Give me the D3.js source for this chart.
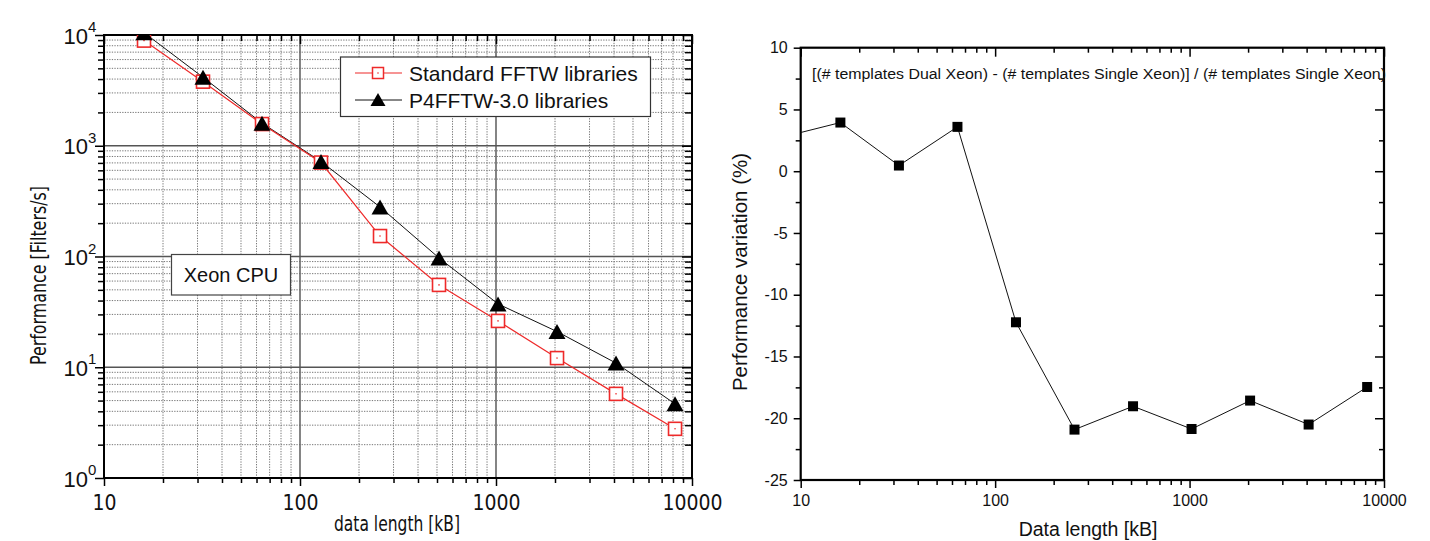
<!DOCTYPE html>
<html>
<head>
<meta charset="utf-8">
<script src="https://cdn.jsdelivr.net/npm/d3@7"></script>
<style>
  html, body { margin: 0; padding: 0; background: #fff; }
  svg { display: block; }
  text { fill: #111; }
</style>
</head>
<body>
<svg id="chart" width="1430" height="541"></svg>
<script>
// ---------------- DATA ----------------
const sizesKB = [16, 32, 64, 128, 256, 512, 1024, 2048, 4096, 8192];
const standardFFTW = [8900, 3790, 1570, 705, 153, 55.4, 26.2, 12.1, 5.75, 2.78];
const p4FFTW = [10500, 4150, 1600, 720, 280, 97, 37.3, 21, 10.9, 4.67];
const seriesNames = ["Standard FFTW libraries", "P4FFTW-3.0 libraries"];

const varSizesKB = [8, 16, 32, 64, 128, 256, 512, 1024, 2048, 4096, 8192];
const variation = [2.75, 3.94, 0.46, 3.59, -12.23, -20.92, -19.03, -20.87, -18.57, -20.51, -17.47];

const leftXTicks = [10, 100, 1000, 10000];
const leftYTickExp = [0, 1, 2, 3, 4];
const rightXTicks = [10, 100, 1000, 10000];
const rightYTicks = [-25, -20, -15, -10, -5, 0, 5, 10];
const rightYMinor = [-22.5, -17.5, -12.5, -7.5, -2.5, 2.5, 7.5];

const svg = d3.select("#chart");
const SANS = "'Liberation Sans', Arial, sans-serif";
const NARROW = "'Liberation Sans Narrow', 'DejaVu Sans Condensed', sans-serif";

// ================= LEFT CHART =================
const L = { x0: 104, x1: 692, y0: 35, y1: 478 };
const lx = d3.scaleLog().domain([10, 10000]).range([L.x0, L.x1]);
const ly = d3.scaleLog().domain([1, 10000]).range([L.y1, L.y0]);
const leftG = svg.append("g");

const xAll = lx.ticks();
const yAll = ly.ticks();
const isPow10 = v => Math.abs(Math.log10(v) - Math.round(Math.log10(v))) < 1e-9;
const xMinor = xAll.filter(v => !isPow10(v));
const yMinor = yAll.filter(v => !isPow10(v));
const xMajorInner = leftXTicks.filter(v => v > 10 && v < 10000);
const yMajorInner = leftYTickExp.map(e => Math.pow(10, e)).filter(v => v > 1 && v < 10000);

// minor grid (dotted)
leftG.append("g").selectAll("line.vx").data(xMinor).join("line")
  .attr("x1", d => lx(d)).attr("x2", d => lx(d)).attr("y1", L.y0).attr("y2", L.y1)
  .attr("stroke", "#777").attr("stroke-width", 1).attr("stroke-dasharray", "1.3,1.3");
leftG.append("g").selectAll("line.hy").data(yMinor).join("line")
  .attr("y1", d => ly(d)).attr("y2", d => ly(d)).attr("x1", L.x0).attr("x2", L.x1)
  .attr("stroke", "#777").attr("stroke-width", 1).attr("stroke-dasharray", "1.3,1.3");
// major grid (solid)
leftG.append("g").selectAll("line").data(xMajorInner).join("line")
  .attr("x1", d => lx(d)).attr("x2", d => lx(d)).attr("y1", L.y0).attr("y2", L.y1)
  .attr("stroke", "#666").attr("stroke-width", 1.6);
leftG.append("g").selectAll("line").data(yMajorInner).join("line")
  .attr("y1", d => ly(d)).attr("y2", d => ly(d)).attr("x1", L.x0).attr("x2", L.x1)
  .attr("stroke", "#555").attr("stroke-width", 1.6);

// axes ticks
function tickAxis(g, axis) {
  g.call(axis);
  g.select(".domain").remove();
  g.selectAll(".tick line").attr("stroke", "#000").attr("stroke-width", 1.5);
  return g;
}
const intFmt = d => String(d);
// bottom
tickAxis(leftG.append("g").attr("transform", `translate(0,${L.y1})`),
  d3.axisBottom(lx).tickValues(xMinor).tickSize(5).tickFormat(""));
const lxb = tickAxis(leftG.append("g").attr("transform", `translate(0,${L.y1})`),
  d3.axisBottom(lx).tickValues(leftXTicks).tickSize(8).tickPadding(9).tickFormat(intFmt));
lxb.selectAll("text").attr("font-family", NARROW).attr("font-size", 21).attr("fill", "#222");
// top (inward)
tickAxis(leftG.append("g").attr("transform", `translate(0,${L.y0})`),
  d3.axisTop(lx).tickValues(xMinor).tickSize(-6).tickFormat(""));
tickAxis(leftG.append("g").attr("transform", `translate(0,${L.y0})`),
  d3.axisTop(lx).tickValues(leftXTicks).tickSize(-9).tickFormat(""));
// left (outward)
tickAxis(leftG.append("g").attr("transform", `translate(${L.x0},0)`),
  d3.axisLeft(ly).tickValues(yMinor).tickSize(6).tickFormat(""));
tickAxis(leftG.append("g").attr("transform", `translate(${L.x0},0)`),
  d3.axisLeft(ly).tickValues(leftYTickExp.map(e => Math.pow(10, e))).tickSize(9).tickFormat(""));
// right (inward)
tickAxis(leftG.append("g").attr("transform", `translate(${L.x1},0)`),
  d3.axisRight(ly).tickValues(yMinor).tickSize(-7).tickFormat(""));
tickAxis(leftG.append("g").attr("transform", `translate(${L.x1},0)`),
  d3.axisRight(ly).tickValues(leftYTickExp.map(e => Math.pow(10, e))).tickSize(-10).tickFormat(""));

// y tick labels 10^n
leftG.append("g").selectAll("text").data(leftYTickExp).join("text")
  .attr("x", 88).attr("y", d => ly(Math.pow(10, d)) + 8.5)
  .attr("text-anchor", "end")
  .attr("font-family", SANS).attr("font-size", 22).attr("fill", "#222")
  .text("10");
leftG.append("g").selectAll("text").data(leftYTickExp).join("text")
  .attr("x", 88).attr("y", d => ly(Math.pow(10, d)) - 3)
  .attr("font-family", SANS).attr("font-size", 15).attr("fill", "#222")
  .text(d => d);

// frame
leftG.append("rect").attr("x", L.x0).attr("y", L.y0)
  .attr("width", L.x1 - L.x0).attr("height", L.y1 - L.y0)
  .attr("fill", "none").attr("stroke", "#000").attr("stroke-width", 2);

// axis titles
leftG.append("text").attr("x", 334).attr("y", 531)
  .attr("font-family", NARROW).attr("font-size", 22).attr("fill", "#222")
  .attr("textLength", 126).attr("lengthAdjust", "spacingAndGlyphs")
  .text("data length [kB]");
leftG.append("text").attr("transform", `translate(46,365) rotate(-90)`)
  .attr("font-family", NARROW).attr("font-size", 22).attr("fill", "#222")
  .attr("textLength", 179).attr("lengthAdjust", "spacingAndGlyphs")
  .text("Performance [Filters/s]");

// clip
svg.append("defs").append("clipPath").attr("id", "clipL")
  .append("rect").attr("x", L.x0).attr("y", L.y0).attr("width", L.x1 - L.x0).attr("height", L.y1 - L.y0);
const plotL = leftG.append("g").attr("clip-path", "url(#clipL)");

const lineL = d3.line().x((d, i) => lx(sizesKB[i])).y(d => ly(d));
plotL.append("path").datum(p4FFTW).attr("d", lineL)
  .attr("fill", "none").attr("stroke", "#111").attr("stroke-width", 1);
plotL.append("path").datum(standardFFTW).attr("d", lineL)
  .attr("fill", "none").attr("stroke", "#ee2a2a").attr("stroke-width", 1.2);

function triPath(w, h) {
  return `M0,${-h / 2}L${w / 2},${h / 2}L${-w / 2},${h / 2}Z`;
}
// red squares
const sq = 13;
plotL.append("g").selectAll("rect").data(standardFFTW).join("rect")
  .attr("x", (d, i) => lx(sizesKB[i]) - sq / 2).attr("y", d => ly(d) - sq / 2)
  .attr("width", sq).attr("height", sq)
  .attr("fill", "#fff").attr("stroke", "#ee2a2a").attr("stroke-width", 1.6);
plotL.append("g").selectAll("circle").data(standardFFTW).join("circle")
  .attr("cx", (d, i) => lx(sizesKB[i])).attr("cy", d => ly(d)).attr("r", 0.8).attr("fill", "#ee2a2a");
// black triangles
plotL.append("g").selectAll("path").data(p4FFTW).join("path")
  .attr("transform", (d, i) => `translate(${lx(sizesKB[i])},${ly(d)})`)
  .attr("d", triPath(17, 15)).attr("fill", "#000");

// legend
const lg = leftG.append("g");
lg.append("rect").attr("x", 340.5).attr("y", 57).attr("width", 310).attr("height", 59.5)
  .attr("fill", "#fff").attr("stroke", "#333").attr("stroke-width", 1.2);
const legRows = [73, 100];
lg.append("line").attr("x1", 355).attr("x2", 402).attr("y1", legRows[0]).attr("y2", legRows[0])
  .attr("stroke", "#ee2a2a").attr("stroke-width", 1.2);
lg.append("rect").attr("x", 378 - 5.5).attr("y", legRows[0] - 5.5).attr("width", 11).attr("height", 11)
  .attr("fill", "#fff").attr("stroke", "#ee2a2a").attr("stroke-width", 1.5);
lg.append("circle").attr("cx", 378).attr("cy", legRows[0]).attr("r", 0.8).attr("fill", "#ee2a2a");
lg.append("line").attr("x1", 355).attr("x2", 402).attr("y1", legRows[1]).attr("y2", legRows[1])
  .attr("stroke", "#111").attr("stroke-width", 1);
lg.append("path").attr("transform", `translate(378,${legRows[1] - 0.5})`).attr("d", triPath(15, 13)).attr("fill", "#000");
lg.selectAll("text.leg").data(seriesNames).join("text")
  .attr("x", 409).attr("y", (d, i) => legRows[i] + 7.5)
  .attr("font-family", SANS).attr("font-size", 21).attr("fill", "#222")
  .text(d => d);

// Xeon CPU box
leftG.append("rect").attr("x", 171.5).attr("y", 254.5).attr("width", 119).attr("height", 40.5)
  .attr("fill", "#fff").attr("stroke", "#444").attr("stroke-width", 1.2);
leftG.append("text").attr("x", 231).attr("y", 282).attr("text-anchor", "middle")
  .attr("font-family", SANS).attr("font-size", 20).attr("fill", "#222").text("Xeon CPU");

// ================= RIGHT CHART =================
const R = { x0: 800.7, x1: 1384, y0: 47.7, y1: 480 };
const rx = d3.scaleLog().domain([10, 10000]).range([R.x0, R.x1]);
const ry = d3.scaleLinear().domain([-25, 10]).range([R.y1, R.y0]);
const rightG = svg.append("g");
const rxMinor = rx.ticks().filter(v => !isPow10(v));

// bottom (outward)
tickAxis(rightG.append("g").attr("transform", `translate(0,${R.y1})`),
  d3.axisBottom(rx).tickValues(rxMinor).tickSize(5).tickFormat(""));
const rxb = tickAxis(rightG.append("g").attr("transform", `translate(0,${R.y1})`),
  d3.axisBottom(rx).tickValues(rightXTicks).tickSize(8).tickPadding(7).tickFormat(intFmt));
rxb.selectAll("text").attr("font-family", SANS).attr("font-size", 16).attr("fill", "#111");
// top (inward)
tickAxis(rightG.append("g").attr("transform", `translate(0,${R.y0})`),
  d3.axisTop(rx).tickValues(rxMinor).tickSize(-5).tickFormat(""));
tickAxis(rightG.append("g").attr("transform", `translate(0,${R.y0})`),
  d3.axisTop(rx).tickValues(rightXTicks).tickSize(-9).tickFormat(""));
// left (outward)
tickAxis(rightG.append("g").attr("transform", `translate(${R.x0},0)`),
  d3.axisLeft(ry).tickValues(rightYMinor).tickSize(5).tickFormat(""));
const ryl = tickAxis(rightG.append("g").attr("transform", `translate(${R.x0},0)`),
  d3.axisLeft(ry).tickValues(rightYTicks).tickSize(7).tickPadding(6).tickFormat(intFmt));
ryl.selectAll("text").attr("font-family", SANS).attr("font-size", 16).attr("fill", "#111");
// right (inward)
tickAxis(rightG.append("g").attr("transform", `translate(${R.x1},0)`),
  d3.axisRight(ry).tickValues(rightYMinor).tickSize(-5).tickFormat(""));
tickAxis(rightG.append("g").attr("transform", `translate(${R.x1},0)`),
  d3.axisRight(ry).tickValues(rightYTicks).tickSize(-9).tickFormat(""));

rightG.append("rect").attr("x", R.x0).attr("y", R.y0)
  .attr("width", R.x1 - R.x0).attr("height", R.y1 - R.y0)
  .attr("fill", "none").attr("stroke", "#000").attr("stroke-width", 2.2);

// titles
rightG.append("text").attr("x", 1088).attr("y", 536).attr("text-anchor", "middle")
  .attr("font-family", SANS).attr("font-size", 19.5).attr("fill", "#111")
  .text("Data length [kB]");
rightG.append("text").attr("transform", `translate(747,272) rotate(-90)`).attr("text-anchor", "middle")
  .attr("font-family", SANS).attr("font-size", 20.5).attr("fill", "#111")
  .text("Performance variation (%)");
rightG.append("text").attr("x", 812).attr("y", 79)
  .attr("font-family", SANS).attr("font-size", 15.5).attr("fill", "#111")
  .attr("textLength", 574).attr("lengthAdjust", "spacingAndGlyphs")
  .text("[(# templates Dual Xeon) - (# templates Single Xeon)] / (# templates Single Xeon)");

svg.select("defs").append("clipPath").attr("id", "clipR")
  .append("rect").attr("x", R.x0).attr("y", R.y0).attr("width", R.x1 - R.x0).attr("height", R.y1 - R.y0);
const plotR = rightG.append("g").attr("clip-path", "url(#clipR)");
const lineR = d3.line().x((d, i) => rx(varSizesKB[i])).y(d => ry(d));
plotR.append("path").datum(variation).attr("d", lineR)
  .attr("fill", "none").attr("stroke", "#111").attr("stroke-width", 1);
const ms = 10;
plotR.append("g").selectAll("rect").data(variation).join("rect")
  .attr("x", (d, i) => rx(varSizesKB[i]) - ms / 2).attr("y", d => ry(d) - ms / 2)
  .attr("width", ms).attr("height", ms).attr("fill", "#000");
</script>
</body>
</html>
